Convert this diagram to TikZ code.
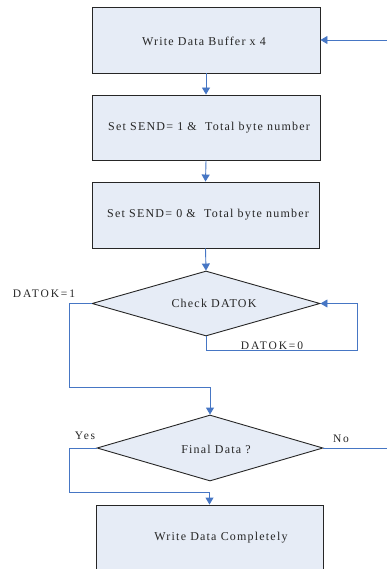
\documentclass[tikz,border=0pt]{standalone}
\usepackage{fontspec}
\setmainfont{Liberation Serif}[LetterSpace=10]
\newfontfamily\labelfont{Liberation Serif}[LetterSpace=16]
\usetikzlibrary{shapes.geometric,arrows.meta}
\definecolor{boxfill}{RGB}{230,236,246}
\definecolor{flowblue}{RGB}{70,118,196}
\tikzset{
  procbox/.style={draw=black!85, line width=0.9pt, fill=boxfill, rectangle, inner sep=0pt},
  decbox/.style={draw=black!85, line width=0.9pt, fill=boxfill, diamond, inner sep=0pt},
  flow/.style={draw=flowblue, line width=0.9pt},
  flowarrow/.style={flow, -{Triangle[length=7pt,width=8pt]}},
  maintext/.style={font=\fontsize{12}{14}\selectfont, text=black!85, inner sep=0pt},
  labeltext/.style={font=\labelfont\fontsize{11.5}{13}\selectfont, text=black!85, inner sep=0pt}
}
\begin{document}
\begin{tikzpicture}[x=1pt,y=-1pt]
\useasboundingbox (0,0) rectangle (387,569);
\clip (0,0) rectangle (387,569);
% boxes
\node[procbox, minimum width=228pt, minimum height=66pt] (b1) at (206,40) {};
\node[procbox, minimum width=228pt, minimum height=65pt] (b2) at (206,127.5) {};
\node[procbox, minimum width=227pt, minimum height=66pt] (b3) at (205.5,215) {};
\node[decbox, minimum width=228pt, minimum height=65pt] (d1) at (206,303.5) {};
\node[decbox, minimum width=226pt, minimum height=66pt] (d2) at (210,448) {};
\node[procbox, minimum width=227pt, minimum height=100pt] (b4) at (209.5,555) {};
% texts
\node[maintext] (t1) at (204,41) {Write Data Buffer x 4};
\node[maintext] (t2) at (209,128) {Set SEND= 1 \&\ \ Total byte number};
\node[maintext] (t3) at (208,215) {Set SEND= 0 \&\ \ Total byte number};
\node[maintext] (t4) at (214,303) {Check DATOK};
\node[maintext] (t5) at (216,449) {Final Data ?};
\node[maintext] (t6) at (221,538) {Write Data Completely};
% labels
\node[labeltext] (l1) at (44,294) {DATOK=1};
\node[labeltext] (l2) at (272,346) {DATOK=0};
\node[labeltext] (l3) at (85,436) {Yes};
\node[labeltext] (l4) at (341,439) {No};
% connectors
\coordinate (inR) at (395,40);
\coordinate (outR) at (395,448);
\draw[flowarrow] (inR) -- (b1.east);
\draw[flowarrow] (b1.south) -- (b2.north);
\draw[flowarrow] (b2.south) -- (b3.north);
\draw[flowarrow] (b3.south) -- (d1.north);
\draw[flowarrow] (d1.south) -- (206,350) -- (357,350) -- (357,303.5) -- (d1.east);
\draw[flowarrow] (d1.west) -- (69,303.5) -- (69,387) -- (210,387) -- (d2.north);
\draw[flowarrow] (d2.west) -- (69,448) -- (69,492) -- (209.5,492) -- (b4.north);
\draw[flow] (d2.east) -- (outR);
\end{tikzpicture}
\end{document}
